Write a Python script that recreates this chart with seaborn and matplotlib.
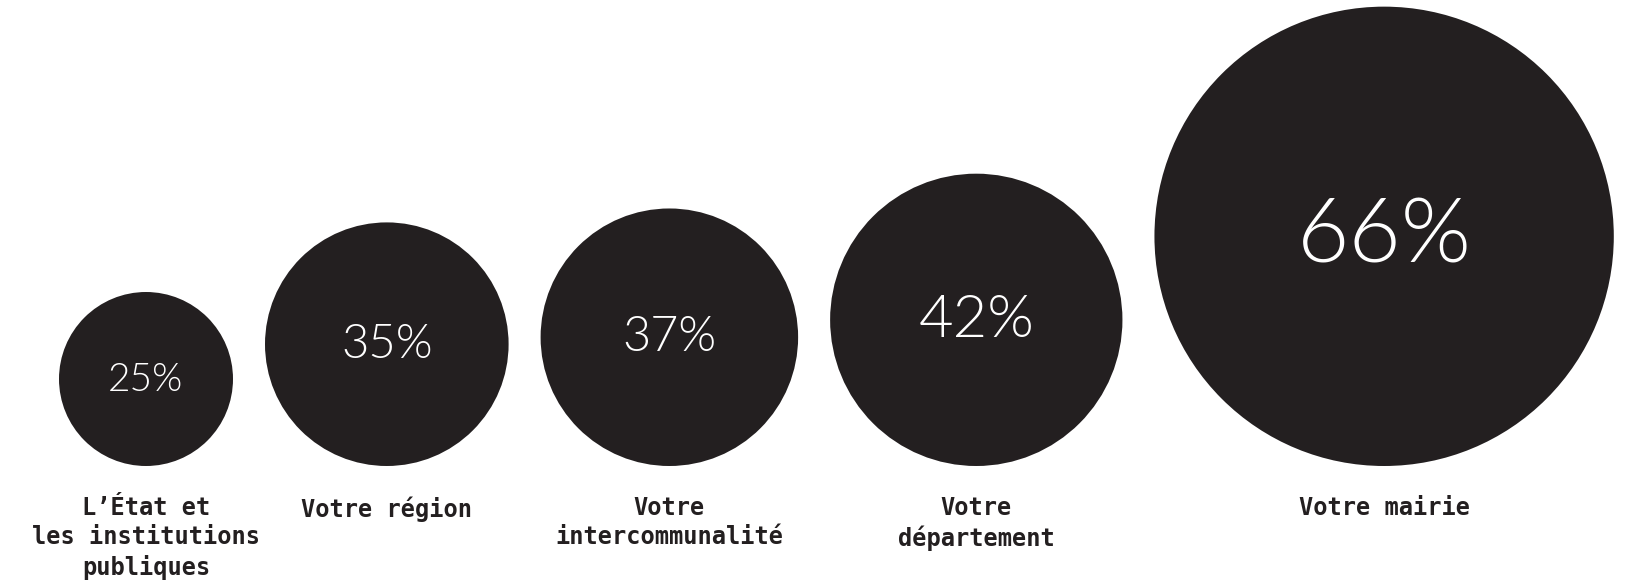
import matplotlib
matplotlib.use("Agg")
import matplotlib.pyplot as plt
import seaborn as sns
import numpy as np
import pandas as pd

# ---- data ----
categories = [
    "L\u2019\u00c9tat et\nles institutions\npubliques",
    "Votre r\u00e9gion",
    "Votre\nintercommunalit\u00e9",
    "Votre\nd\u00e9partement",
    "Votre mairie",
]
values = [25, 35, 37, 42, 66]
value_labels = ["25%", "35%", "37%", "42%", "66%"]

# ---- styles ----
CIRCLE_COLOR = "#231f20"
PX_PER_UNIT = 6.96        # circle diameter (px) per percentage point
GAP = 32                  # px between circles
LEFT = 59                 # left margin px
BASE = 466                # common bottom of circles (px)
pct_fontsizes = [28, 34, 35, 43, 65]

sns.set_theme(style="white")
plt.rcParams["font.family"] = ["DejaVu Sans"]

W, H, DPI = 1632, 580, 100
fig = plt.figure(figsize=(W / DPI, H / DPI), dpi=DPI)
ax = fig.add_axes([0, 0, 1, 1])

diam = np.array(values, dtype=float) * PX_PER_UNIT
right_edges = LEFT + np.cumsum(diam) + GAP * np.arange(len(values))
cx = right_edges - diam / 2
cy = BASE - diam / 2

df = pd.DataFrame({"x": cx, "y": cy, "label": categories, "v": values})
sizes_pt2 = (diam * 72 / DPI) ** 2

sns.scatterplot(data=df, x="x", y="y", s=sizes_pt2, color=CIRCLE_COLOR,
                linewidth=0, edgecolor="none", ax=ax, legend=False)

for i in range(len(df)):
    x = df["x"].iloc[i]
    y = df["y"].iloc[i]
    fs = pct_fontsizes[i]
    cap_px = 0.717 * fs * DPI / 72
    offset = 0.014 * diam[i]
    ax.text(x, y + cap_px / 2 - offset, value_labels[i],
            color="white", fontsize=fs, family=["Lato", "DejaVu Sans"],
            fontweight=300, ha="center", va="baseline")
    ax.text(x, 496, df["label"].iloc[i], color=CIRCLE_COLOR, fontsize=17,
            family=["DejaVu Sans Mono"], fontweight="bold",
            ha="center", va="top", linespacing=1.27, multialignment="center")

ax.set_xlim(0, W)
ax.set_ylim(H, 0)
ax.set_axis_off()
fig.savefig("out.png", dpi=DPI, facecolor="white")
